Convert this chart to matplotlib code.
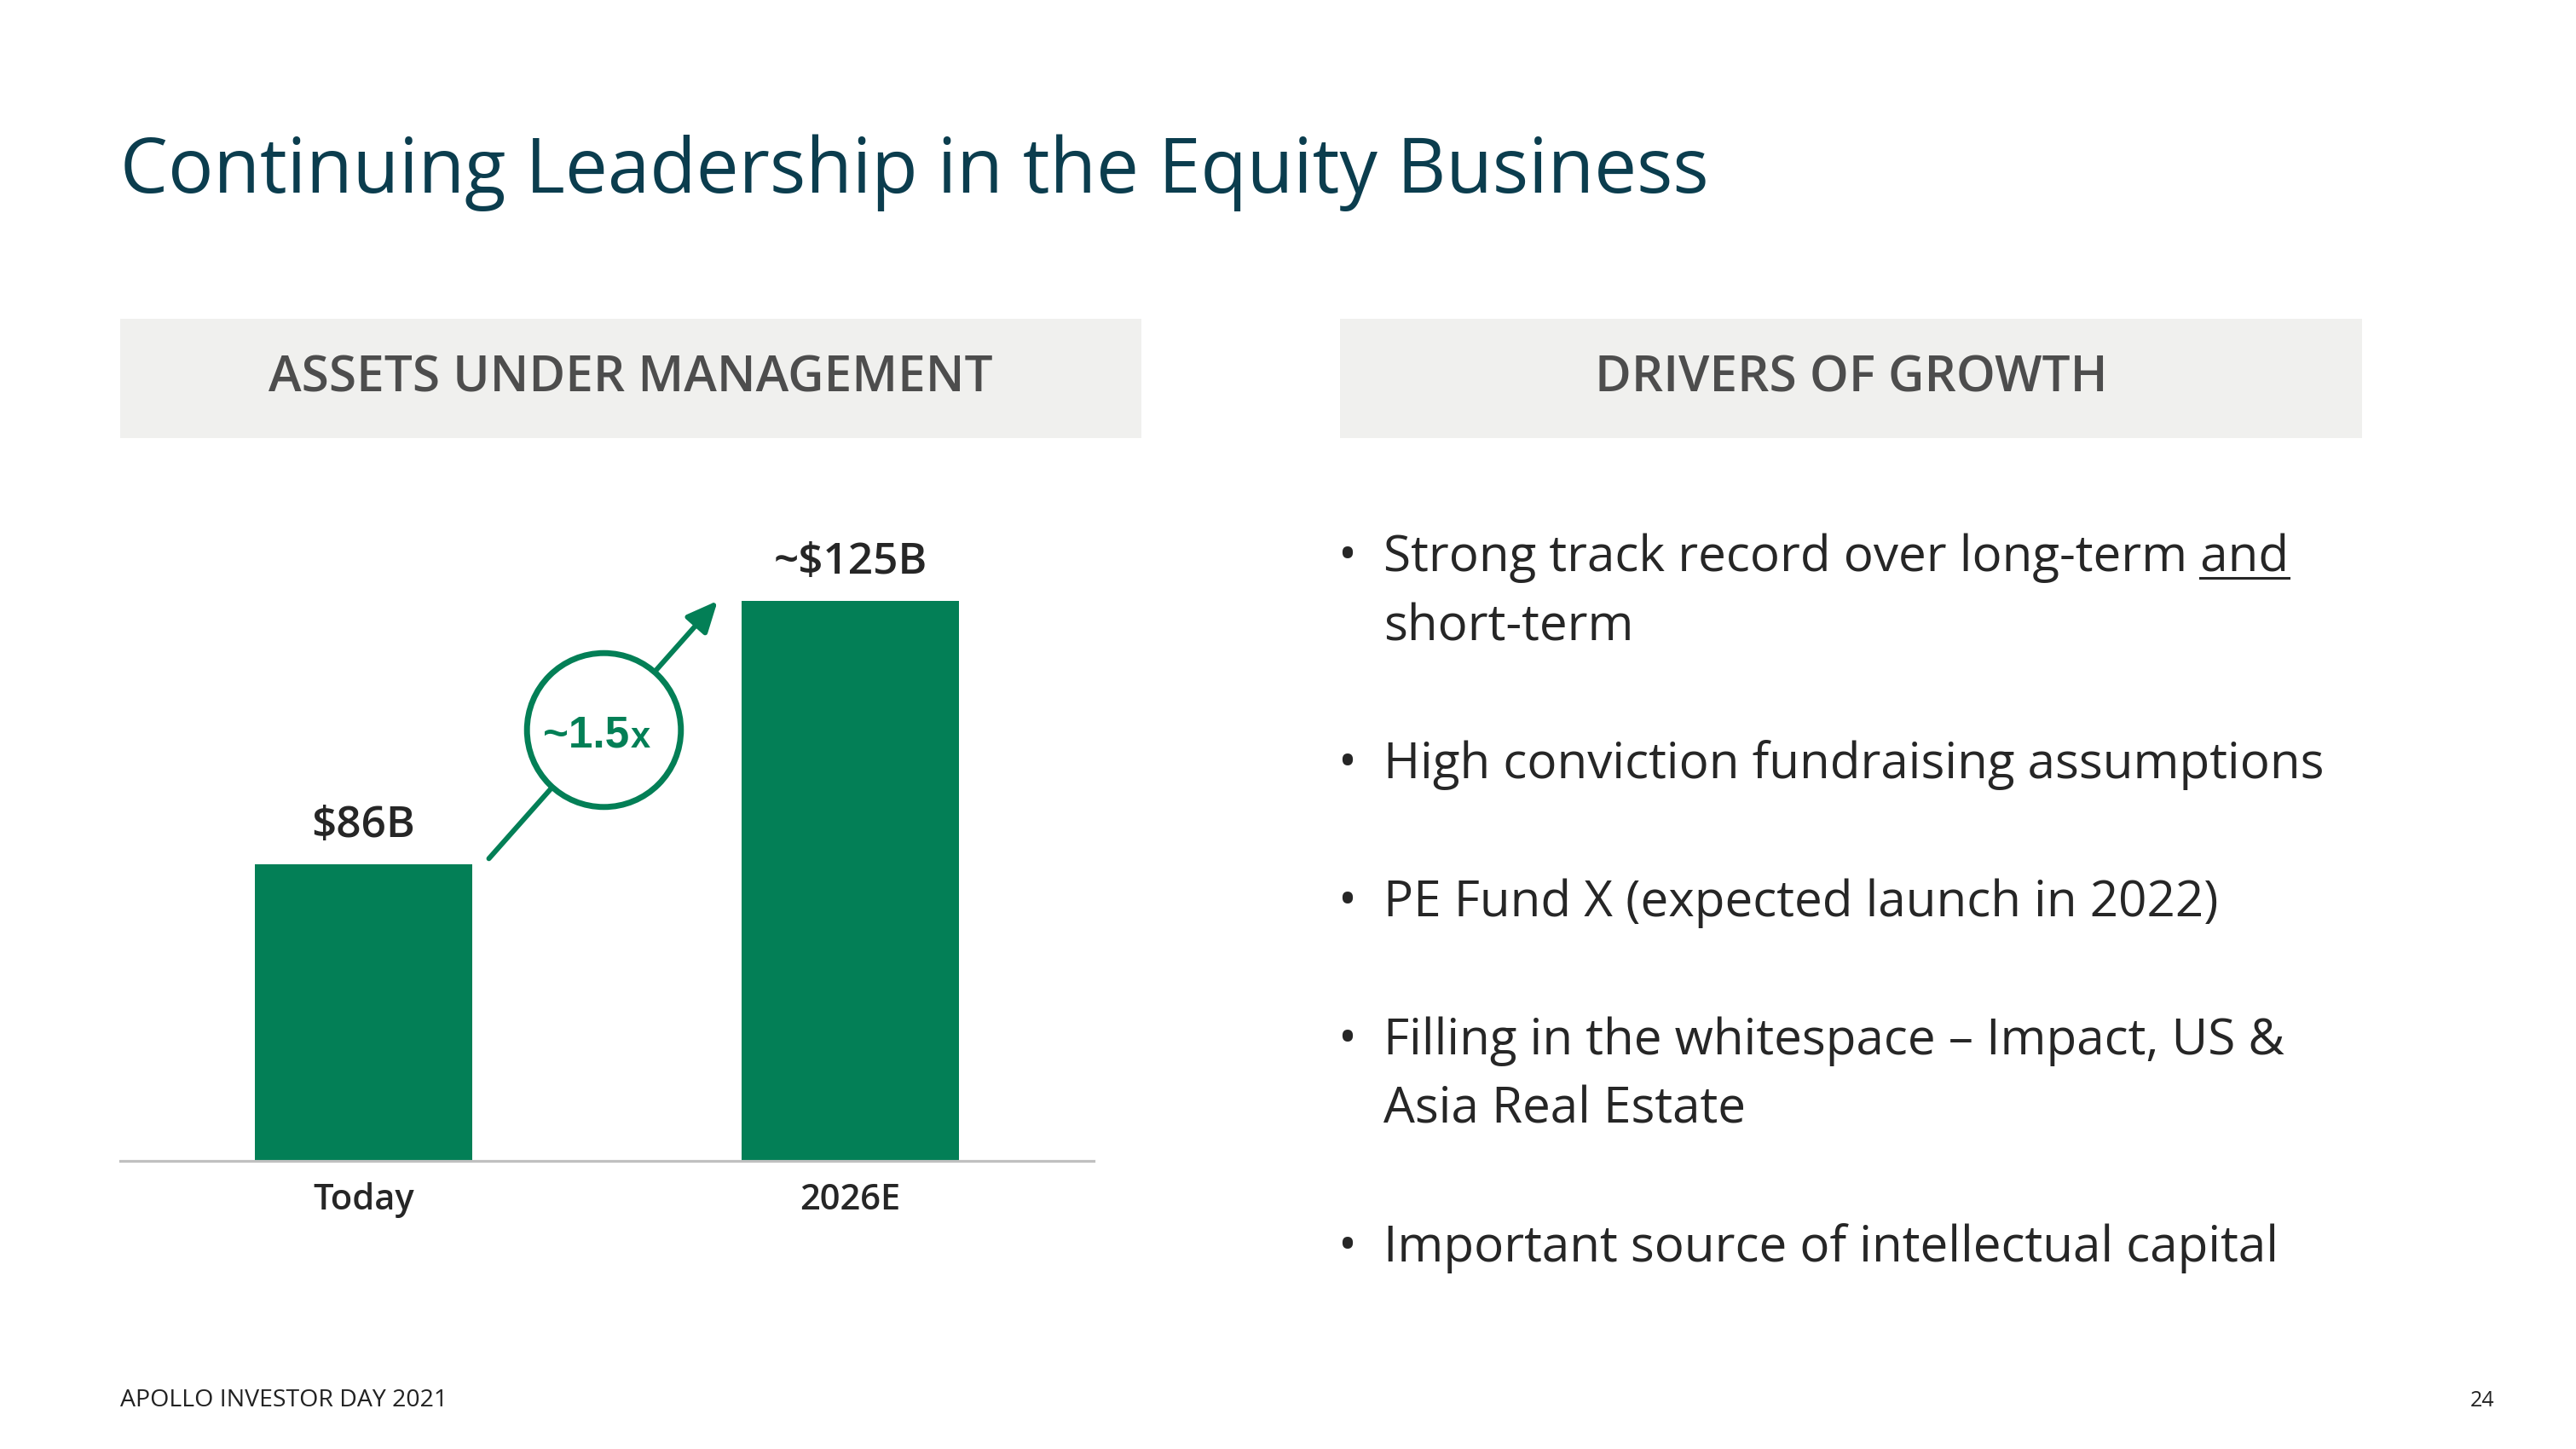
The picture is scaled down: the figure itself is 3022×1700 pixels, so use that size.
import matplotlib
matplotlib.use('Agg')
import matplotlib.pyplot as plt
from matplotlib.patches import Rectangle
from matplotlib.lines import Line2D

#-------- duomenys -------------
categories = ['Today', '2026E']
aum_bn = [86, 125]
value_labels = ['$86B', '~$125B']
growth_label = '~1.5'
growth_suffix = 'x'

title = 'Continuing Leadership in the Equity Business'
left_header = 'ASSETS UNDER MANAGEMENT'
right_header = 'DRIVERS OF GROWTH'
bullets = [
    ['Strong track record over long-term and', 'short-term'],
    ['High conviction fundraising assumptions'],
    ['PE Fund X (expected launch in 2022)'],
    ['Filling in the whitespace \u2013 Impact, US &', 'Asia Real Estate'],
    ['Important source of intellectual capital'],
]
underlined_word = 'and'
footer = 'APOLLO INVESTOR DAY 2021'
page_no = '24'
#----------------------------------

GREEN = '#037f56'
TITLE_C = '#0b3d4e'
TEXT_C = '#262626'
HEAD_BG = '#f0f0ee'
HEAD_C = '#4d4d4d'

W, H = 3022, 1700
plt.rcParams['font.family'] = ['Open Sans', 'DejaVu Sans']
fig = plt.figure(figsize=(W / 100, H / 100), dpi=100)

def fx(x): return x / W
def fy(y): return 1 - y / H

# antraste
fig.text(fx(141), fy(226), title, fontsize=64, color=TITLE_C, ha='left', va='baseline')

# pilkos antrasciu juostos
for x0, x1, txt in [(141, 1339, left_header), (1572, 2771, right_header)]:
    fig.add_artist(Rectangle((fx(x0), fy(514)), fx(x1) - fx(x0), (514 - 374) / H,
                             transform=fig.transFigure, fc=HEAD_BG, ec='none', zorder=0))
    fig.text(fx((x0 + x1) / 2), fy(460), txt, ha='center', va='baseline',
             fontsize=42, fontweight='semibold', color=HEAD_C)

#-------- stulpeline diagrama -------------
ax = fig.add_axes([fx(141), fy(1362), (1283 - 141) / W, (1362 - 560) / H])
ax.set_facecolor('none')
xs = list(range(len(categories)))
bw = 0.445
ax.bar(xs, aum_bn, width=bw, color=GREEN, zorder=2)
ax.set_xlim(-0.5, 1.5)
ax.set_ylim(42, 143.3)
for s in ['left', 'top', 'right']:
    ax.spines[s].set_visible(False)
ax.spines['bottom'].set_color('#c0c0c0')
ax.spines['bottom'].set_linewidth(2.3)
ax.spines['bottom'].set_zorder(3)
ax.set_yticks([])
ax.set_xticks(xs, categories, fontsize=30, fontweight='semibold', color=TEXT_C)
ax.tick_params(axis='x', length=0, pad=18)

for x, v, lbl in zip(xs, aum_bn, value_labels):
    ax.annotate(lbl, (x, v), xytext=(0, 23), textcoords='offset points',
                ha='center', va='baseline', fontsize=37, fontweight='semibold', color=TEXT_C)

# rodykle ir apskritimas
start = (xs[0] + bw / 2 + 0.035, aum_bn[0] + 0.8)
end = (xs[1] - bw / 2 - 0.05, aum_bn[1])
ax.annotate('', xy=end, xytext=start,
            arrowprops=dict(arrowstyle='-|>,head_length=0.55,head_width=0.25', color=GREEN,
                            lw=4.3, shrinkA=0, shrinkB=0, mutation_scale=40), zorder=3)
mid = ((start[0] + end[0]) / 2, (start[1] + end[1]) / 2)
ax.plot([mid[0]], [mid[1]], marker='o', ms=130, mfc='white', mec=GREEN, mew=5, zorder=4, clip_on=False)
nf = ['Liberation Sans Narrow', 'Liberation Sans', 'DejaVu Sans']
ax.annotate(growth_label, mid, xytext=(22, -15), textcoords='offset points', ha='right', va='baseline',
            fontsize=37, fontweight='bold', color=GREEN, zorder=5, family=nf)
ax.annotate(growth_suffix, mid, xytext=(23, -15), textcoords='offset points', ha='left', va='baseline',
            fontsize=30, fontweight='bold', color=GREEN, zorder=5, family=nf)

#-------- punktai -------------
slot = 0
first_line = None
for items in bullets:
    fig.text(fx(1580), fy(670 + 81 * slot), '\u2022', ha='center', va='baseline', fontsize=42, color=TEXT_C)
    for line in items:
        t = fig.text(fx(1623), fy(670 + 81 * slot), line, ha='left', va='baseline', fontsize=42, color=TEXT_C)
        if first_line is None:
            first_line = t
        slot += 1
    slot += 1

# pabrauktas zodis "and"
r = fig.canvas.get_renderer()
bb = first_line.get_window_extent(r)
tmp = fig.text(0, 0, underlined_word, fontsize=42)
ww = tmp.get_window_extent(r).width
tmp.remove()
uy = H - 670 - 8
fig.add_artist(Line2D([(bb.x1 - ww) / W, bb.x1 / W], [uy / H, uy / H], color=TEXT_C, lw=2.2,
                      transform=fig.transFigure))

# poraste
fig.text(fx(141), fy(1650), footer, fontsize=20.5, color='#222222', ha='left', va='baseline')
fig.text(fx(2912), fy(1650), page_no, fontsize=18, color='#222222', ha='center', va='baseline')

fig.savefig('out.png', dpi=100)
